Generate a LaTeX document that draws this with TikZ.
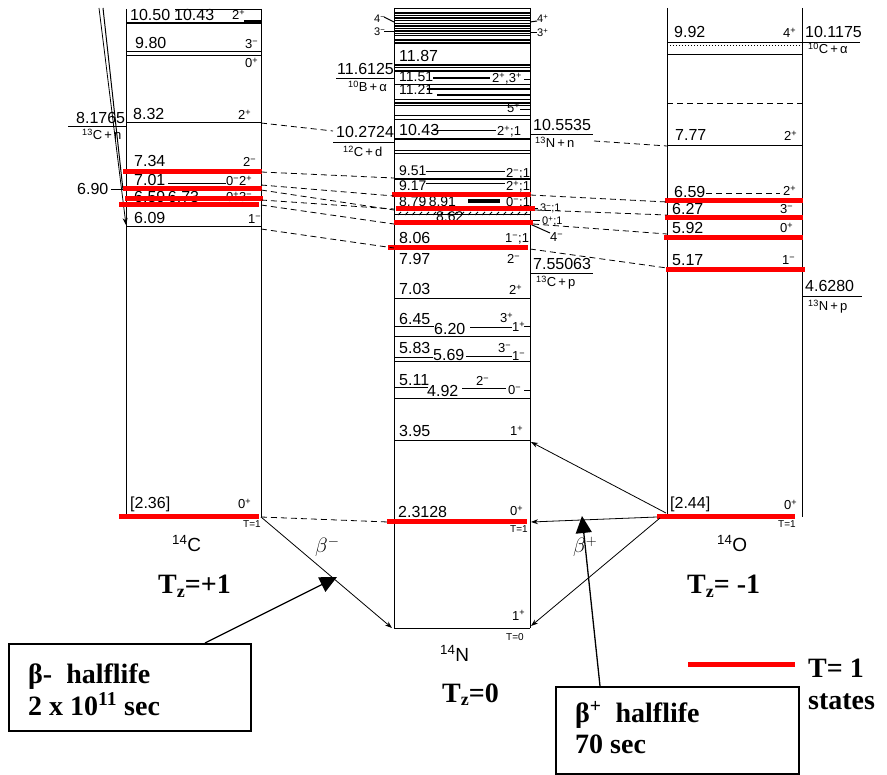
\documentclass[tikz,border=0pt]{standalone}
\usepackage{fontspec}
\setmainfont{Liberation Serif}
\newfontfamily\lf{Liberation Sans}
\usetikzlibrary{arrows.meta}
\newcommand\spp{\textsuperscript{+}}
\newcommand\spm{\textsuperscript{−}}
\begin{document}
\begin{tikzpicture}[x=1pt,y=-1pt,
  lv/.style={line width=1pt},
  thk/.style={line width=2pt},
  rl/.style={red, line width=5pt},
  dl/.style={line width=0.8pt, dash pattern=on 6pt off 4pt},
  t/.style={anchor=base west, inner sep=0pt, font=\lf\fontsize{16}{16}\selectfont},
  ts/.style={anchor=base west, inner sep=0pt, font=\lf\fontsize{14}{14}\selectfont},
  sp/.style={anchor=base west, inner sep=0pt, font=\lf\fontsize{13}{13}\selectfont},
  sps/.style={anchor=base west, inner sep=0pt, font=\lf\fontsize{11}{11}\selectfont},
  sm/.style={anchor=base west, inner sep=0pt, font=\lf\fontsize{10}{10}\selectfont},
  nuc/.style={anchor=base west, inner sep=0pt, font=\lf\fontsize{19}{19}\selectfont},
  big/.style={anchor=base west, inner sep=0pt, font=\bfseries\fontsize{28}{28}\selectfont},
  ar/.style={line width=0.8pt, -{Stealth[length=7pt,width=5pt]}},
  call/.style={line width=1.3pt, -{Triangle[length=17pt,width=16pt]}},
  box/.style={draw, line width=1.5pt, fill=white}]
\useasboundingbox (0,0) rectangle (887,775);

% ================= LEFT COLUMN (14C) =================
\draw[lv] (126,9) -- (126,517);
\draw[lv] (261,9) -- (261,517);
\draw[lv] (175,10) -- (261,10);
\draw[thk] (126,23) -- (261,23);
\draw[line width=3.5pt] (244,22) -- (261,22);
\node[t] (c1050) at (130,21) {10.50};
\node[t] (c1043) at (174,21) {10.43};
\node[sp] (c1043s) at (232,20) {2\spp};
\draw[lv] (126,52) -- (261,52);
\node[t] (c980) at (135,49) {9.80};
\node[sp] (c980s) at (245,49) {3\spm};
\draw[lv] (126,56) -- (261,56);
\node[sp] (c975s) at (245,68) {0\spp};
\draw[lv] (126,123) -- (261,123);
\node[t] (c832) at (133,120) {8.32};
\node[sp] (c832s) at (238,120) {2\spp};
\node[t] (c81765) at (76,124) {8.1765};
\draw[lv] (68,127) -- (126,127);
\node[sp] (c13n) at (82,140) {\textsuperscript{13}C\,+\,n};
\node[t] (c734) at (134,167) {7.34};
\node[sp] (c734s) at (243,167) {2\spm};
\node[t] (c701) at (134,186) {7.01};
\draw[lv] (168,184) -- (226,184);
\node[sp] (c701s) at (226,186) {0\spm2\spp};
\node[t] (c690) at (77,195) {6.90};
\draw[lv] (111,190) -- (126,190);
\node[t] (c659) at (134,203) {6.59\,6.73};
\node[sp] (c659s) at (226,202) {0\spp3\spm};
\draw[lv] (126,227) -- (261,227);
\node[t] (c609) at (134,224) {6.09};
\node[sp] (c609s) at (248,224) {1\spm};
% long arrow
\draw[lv] (103,8) -- (123,190);
\coordinate (ctop) at (99,8);
\coordinate (c609l) at (126,225);
\draw[ar] (ctop) -- (c609l);
% red T=1 levels
\draw[rl] (123,172) -- (262,172);
\draw[rl] (123,189) -- (262,189);
\draw[rl] (125,199) -- (263,199);
\draw[rl] (119,205) -- (259,205);
% ground
\node[t] (c236) at (130,509) {[2.36]};
\node[sp] (c236s) at (238,509) {0\spp};
\node[sm] (c236t) at (243,528) {T=1};
\draw[rl] (119,517) -- (259,517);
\node[nuc] (c14) at (172,551) {\textsuperscript{14}C};

% ================= MIDDLE COLUMN (14N) =================
\draw[lv] (394,8) -- (394,628);
\draw[lv] (530,8) -- (530,628);
\foreach \yy/\ww in {9/1, 13/2.2, 16/1, 18.5/2, 21/1, 23.5/1, 26/1.6, 28.5/1, 31/2, 33.5/1, 36/1, 40/1.5, 43/1.5, 65/2.2, 68/1, 71/2, 85/1, 100/1, 103/2, 106/1, 116/1, 120/1, 151/1, 153.5/1}
  \draw[line width=\ww pt] (394,\yy) -- (530,\yy);
\draw[line width=2pt] (433,78) -- (490,78);
\draw[lv] (524,80) -- (530,80);
\draw[line width=2pt] (427,89) -- (530,89);
\draw[line width=2pt] (437,95.5) -- (530,95.5);
\draw[lv] (520,110) -- (530,110);
\node[sps] (n4m) at (374,23) {4\spm};
\draw[lv] (384,17) -- (394,22);
\node[sps] (n3m) at (374,36) {3\spm};
\draw[lv] (384,32) -- (394,32);
\draw[lv] (530,22) -- (537,21);
\node[sps] (n4p) at (537,23) {4\spp};
\draw[lv] (530,33) -- (537,33);
\node[sps] (n3p) at (537,37) {3\spp};
\node[t] (n1187) at (399,62) {11.87};
\node[t] (n116125) at (337,75) {11.6125};
\draw[lv] (336,78.5) -- (394,78.5);
\node[sp] (n10b) at (348,92) {\textsuperscript{10}B\,+\,α};
\node[ts] (n1151) at (399,82) {11.51};
\node[sp] (n1151s) at (492,83) {2\spp,3\spp};
\node[ts] (n1121) at (399,95) {11.21};
\node[sp] (n5p) at (507,113) {5\spp};
\node[t] (n1043) at (399,136) {10.43};
\draw[lv] (432,131) -- (496,131);
\node[sp] (n1043s) at (497,136) {2\spp;1};
\draw[line width=2pt] (394,139) -- (530,139);
\node[t] (n102724) at (336,138) {10.2724};
\draw[lv] (333,143) -- (394,143);
\node[sp] (n12cd) at (343,157) {\textsuperscript{12}C\,+\,d};
\node[t] (n105535) at (533,131) {10.5535};
\draw[lv] (530,134.5) -- (593,134.5);
\node[sp] (n13nn) at (535,148) {\textsuperscript{13}N\,+\,n};
\node[ts] (n951) at (399,176) {9.51};
\draw[lv] (426,172) -- (505,172);
\node[sp] (n951s) at (506,178) {2\spm;1};
\draw[line width=2pt] (394,179) -- (530,179);
\node[ts] (n917) at (399,191) {9.17};
\draw[lv] (426,184) -- (505,184);
\node[sp] (n917s) at (506,191) {2\spp;1};
\node[ts] (n879) at (399,207) {8.79\,8.91};
\draw[line width=4pt] (468,201) -- (500,201);
\node[sp] (n879s) at (506,207) {0\spm;1};
\draw[lv] (394,215) -- (530,215);
\foreach \xx in {398,405,...,526} \draw[lv] (\xx,215) -- (\xx+3,212);
\node[ts] (n862) at (436,222) {8.62};
\draw[lv] (530,209) -- (538,209);
\node[sps] (n3m1) at (540,212) {3\spm;1};
\draw[lv] (530,221) -- (540,221);
\node[sps] (n0p1) at (542,225) {0\spp;1};
\draw[lv] (530,224) -- (550,233);
\node[sp] (n4mb) at (550,242) {4\spm};
\node[t] (n806) at (399,244) {8.06};
\node[sp] (n806s) at (505,243) {1\spm;1};
\node[t] (n797) at (399,265) {7.97};
\node[sp] (n797s) at (507,264) {2\spm};
\node[t] (n755) at (533,270) {7.55063};
\draw[lv] (530,273.5) -- (593,273.5);
\node[sp] (n13cp) at (536,287) {\textsuperscript{13}C\,+\,p};
\node[t] (n703) at (399,295) {7.03};
\node[sp] (n703s) at (509,295) {2\spp};
\draw[lv] (394,299) -- (530,299);
\node[t] (n645) at (399,325) {6.45};
\draw[lv] (394,327) -- (434,327);
\node[t] (n620) at (434,335) {6.20};
\draw[lv] (470,328) -- (512,328);
\node[sp] (n620s) at (500,323) {3\spp};
\node[sp] (n620t) at (512,332) {1\spp};
\draw[lv] (524,327) -- (530,327);
\draw[lv] (394,337) -- (530,337);
\node[t] (n583) at (399,354) {5.83};
\draw[lv] (394,358) -- (433,358);
\node[t] (n569) at (433,361) {5.69};
\draw[lv] (466,357) -- (512,357);
\node[sp] (n569s) at (498,353) {3\spm};
\node[sp] (n569t) at (512,361) {1\spm};
\draw[lv] (394,362) -- (530,362);
\node[t] (n511) at (399,386) {5.11};
\draw[lv] (394,388) -- (428,388);
\node[t] (n492) at (427,397) {4.92};
\draw[lv] (462,389) -- (506,389);
\node[sp] (n492s) at (476,386) {2\spm};
\node[sp] (n492t) at (508,395) {0\spm};
\draw[lv] (524,391) -- (530,391);
\draw[lv] (394,399) -- (530,399);
\node[t] (n395) at (399,437) {3.95};
\node[sp] (n395s) at (510,436) {1\spp};
\draw[lv] (394,441) -- (530,441);
\node[t] (n23128) at (398,518) {2.3128};
\node[sp] (n23128s) at (510,516) {0\spp};
\node[sm] (n23128t) at (510,533) {T=1};
\draw[lv] (394,628) -- (530,628);
\node[sp] (n0s) at (512,620) {1\spp};
\node[sm] (n0t) at (506,640) {T=0};
\node[nuc] (n14) at (440,661) {\textsuperscript{14}N};
% red T=1 levels (middle)
\draw[rl] (392,195) -- (531,195);
\draw[rl] (396,209) -- (535,209);
\draw[rl] (394,223) -- (533,223);
\draw[rl] (388,248) -- (528,248);
\draw[rl] (387,522) -- (527,522);

% ================= RIGHT COLUMN (14O) =================
\draw[lv] (667,8) -- (667,514);
\draw[lv] (802,8) -- (802,517);
\node[t] (o992) at (674,38) {9.92};
\node[sp] (o992s) at (783,38) {4\spp};
\draw[lv] (667,43) -- (860,43);
\draw[lv, dotted] (667,46) -- (802,46);
\node[t] (o101175) at (805,38) {10.1175};
\node[sp] (o10c) at (808,54) {\textsuperscript{10}C\,+\,α};
\draw[lv] (667,55) -- (802,55);
\draw[dl] (667,103) -- (802,103);
\node[t] (o777) at (675,141) {7.77};
\node[sp] (o777s) at (784,141) {2\spp};
\draw[lv] (667,146) -- (802,146);
\node[t] (o659) at (674,198) {6.59};
\draw[dl] (706,193) -- (780,193);
\node[sp] (o659s) at (783,196) {2\spp};
\node[t] (o627) at (672,215) {6.27};
\node[sp] (o627s) at (780,214) {3\spm};
\node[t] (o592) at (672,234) {5.92};
\node[sp] (o592s) at (780,233) {0\spp};
\node[t] (o517) at (672,266) {5.17};
\node[sp] (o517s) at (782,265) {1\spm};
\node[t] (o46280) at (805,292) {4.6280};
\draw[lv] (802,297) -- (862,297);
\node[sp] (o13np) at (808,311) {\textsuperscript{13}N\,+\,p};
\draw[rl] (665,201) -- (803,201);
\draw[rl] (665,218) -- (803,218);
\draw[rl] (664,238) -- (803,238);
\draw[rl] (666,270) -- (805,270);
\node[t] (o244) at (670,509) {[2.44]};
\node[sp] (o244s) at (784,510) {0\spp};
\node[sm] (o244t) at (778,528) {T=1};
\draw[rl] (657,517) -- (795,517);
\node[nuc] (o14) at (717,551) {\textsuperscript{14}O};

% ================= DASHED ANALOG CONNECTORS =================
\coordinate (L832) at (261,123);  \coordinate (M1027) at (333,131);
\coordinate (L734) at (261,172);  \coordinate (M951) at (394,178);
\coordinate (L701) at (261,185);  \coordinate (M917) at (394,196);
\coordinate (L690) at (261,190);  \coordinate (M879) at (394,210);
\coordinate (L673) at (261,200);  \coordinate (M879b) at (394,209);
\coordinate (L659) at (261,205);  \coordinate (M862) at (394,224);
\coordinate (L609) at (261,229);  \coordinate (M806) at (394,248);
\coordinate (L236) at (261,517);  \coordinate (M23) at (388,522);
\draw[dl] (L832) -- (M1027);
\draw[dl] (L734) -- (M951);
\draw[dl] (L701) -- (M917);
\draw[dl] (L690) -- (M879);
\draw[dl] (L673) -- (M879b);
\draw[dl] (L659) -- (M862);
\draw[dl] (L609) -- (M806);
\draw[dl] (L236) -- (M23);
\coordinate (R1043) at (594,141); \coordinate (O777) at (667,146);
\coordinate (R917) at (530,195);  \coordinate (O659) at (667,202);
\coordinate (R879) at (535,210);  \coordinate (O627) at (667,215);
\coordinate (R862) at (533,224);  \coordinate (O592) at (667,234);
\coordinate (R806) at (530,249);  \coordinate (O517) at (667,268);
\draw[dl] (R1043) -- (O777);
\draw[dl] (R917) -- (O659);
\draw[dl] (R879) -- (O627);
\draw[dl] (R862) -- (O592);
\draw[dl] (R806) -- (O517);

% ================= BETA DECAYS =================
\coordinate (Cg) at (261,517);
\coordinate (Nb) at (392,628);
\draw[ar] (Cg) -- (Nb);
\node[anchor=base west, inner sep=0pt, font=\fontsize{22}{22}\selectfont] (bm) at (315,553) {$\beta^-$};
\coordinate (Og1) at (666,513);
\coordinate (Og2) at (657,517);
\coordinate (Og3) at (660,518);
\coordinate (N395) at (531,442);
\coordinate (N231) at (531,522);
\coordinate (N0) at (531,626);
\draw[ar] (Og1) -- (N395);
\draw[ar] (Og2) -- (N231);
\draw[ar] (Og3) -- (N0);
\node[anchor=base west, inner sep=0pt, font=\fontsize{22}{22}\selectfont] (bp) at (573,553) {$\beta^+$};

% ================= LABELS, CALLOUTS, LEGEND =================
\node[big] (tz1) at (158,594) {T\raisebox{-0.3ex}{\fontsize{18}{18}\selectfont z}=+1};
\node[big] (tz0) at (442,702) {T\raisebox{-0.3ex}{\fontsize{18}{18}\selectfont z}=0};
\node[big] (tzm) at (687,594) {T\raisebox{-0.3ex}{\fontsize{18}{18}\selectfont z}= -1};

\node[box, minimum width=242pt, minimum height=87pt, anchor=north west] (bmbox) at (8,643) {};
\node[big] (bmt1) at (28,683) {β-\ \ halflife};
\node[big] (bmt2) at (28,715) {2 x 10\textsuperscript{11} sec};
\coordinate (bmtip) at (337,577);
\draw[call] (bmbox.north west -| 205,0) -- (bmtip);

\node[box, minimum width=243pt, minimum height=87pt, anchor=north west] (bpbox) at (555,686) {};
\node[big] (bpt1) at (575,722) {β\textsuperscript{+}\ \ halflife};
\node[big] (bpt2) at (575,753) {70 sec};
\coordinate (bptip) at (582,516);
\draw[call] (bpbox.north west -| 600,0) -- (bptip);

\coordinate (lg1) at (688,664);
\coordinate (lg2) at (795,664);
\draw[rl] (lg1) -- (lg2);
\node[big] (lgt1) at (808,677) {T= 1};
\node[big] (lgt2) at (808,709) {states};
\end{tikzpicture}
\end{document}
